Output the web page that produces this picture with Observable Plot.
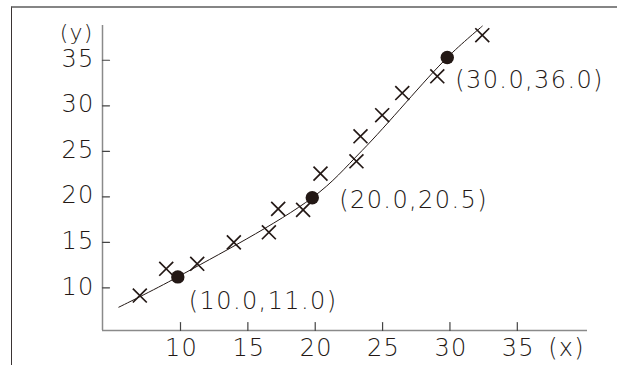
<!DOCTYPE html>
<html>
<head>
<meta charset="utf-8">
<script src="https://cdn.jsdelivr.net/npm/d3@7"></script>
<script src="https://cdn.jsdelivr.net/npm/@observablehq/plot@0.6"></script>
<style>
  html, body { margin: 0; padding: 0; background: #fff; }
  #wrap { position: relative; width: 617px; height: 365px; overflow: hidden; }
  #wrap svg { position: absolute; left: 0; top: 0; }
  #wrap svg text { letter-spacing: 1.2px; }
  #wrap svg .pt-label text { letter-spacing: 1.4px; }
  #frame { position: absolute; left: 11px; top: 6px; width: 700px; height: 400px;
           border-left: 1.5px solid #3a3434; border-top: 2px solid #858585; pointer-events: none; }
</style>
</head>
<body>
<div id="wrap"><div id="frame"></div></div>
<script>
// Data
const crossX = [6.98, 8.94, 11.24, 13.96, 16.56, 17.25, 19.1, 20.39, 23.06, 23.36, 24.97, 26.46, 29.06, 32.4];
const crossY = [9.15, 12.09, 12.64, 15.0, 16.1, 18.68, 18.57, 22.55, 23.9, 26.65, 28.96, 31.4, 33.24, 37.75];
const pointX = [9.8, 19.78, 29.8];
const pointY = [11.2, 19.9, 35.3];
const pointLabels = ["(10.0,11.0)", "(20.0,20.5)", "(30.0,36.0)"];
const lineX = [5.42, 9.8, 19.78, 23.49, 29.8, 32.4];
const lineY = [7.87, 11.2, 19.9, 25.1, 35.3, 38.75];
const xTicks = [10, 15, 20, 25, 30, 35];
const yTicks = [10, 15, 20, 25, 30, 35];
const xDomain = [4.21, 40.21];
const yDomain = [5.31, 38.82];

const ink = "#231815";
const axisGrey = "#8a8a8a";
const font = "'DejaVu Sans', 'Noto Sans', sans-serif";
const fs = 24;

const crosses = crossX.map((x, i) => ({x, y: crossY[i]}));
const points = pointX.map((x, i) => ({x, y: pointY[i], label: pointLabels[i]}));
const curve = lineX.map((x, i) => ({x, y: lineY[i]}));

const tickShape = {draw(context, l) { context.moveTo(0, 0); context.lineTo(0, -l); }};
const textStyle = {fontSize: fs, fontWeight: 300, fill: ink};
const labelStyle = {...textStyle, className: "pt-label"};

const chart = Plot.plot({
  width: 617,
  height: 365,
  marginLeft: 102,
  marginRight: 30,
  marginTop: 25,
  marginBottom: 35,
  style: {fontFamily: font, background: "transparent"},
  x: {domain: xDomain, axis: null},
  y: {domain: yDomain, axis: null},
  marks: [
    Plot.ruleX([xDomain[0]], {stroke: axisGrey, strokeWidth: 1.5}),
    Plot.ruleY([yDomain[0]], {stroke: axisGrey, strokeWidth: 1.5}),
    Plot.vector(yTicks, {x: () => xDomain[0], y: d => d, rotate: 90, length: 7, anchor: "start", shape: tickShape, stroke: "#444", strokeWidth: 1.2}),
    Plot.vector(xTicks, {x: d => d, y: () => yDomain[0], rotate: 0, length: 8, anchor: "start", shape: tickShape, stroke: "#444", strokeWidth: 1.2}),
    Plot.text(yTicks, {y: d => d, frameAnchor: "left", dx: -8, dy: -1, textAnchor: "end", text: d => String(d), ...textStyle}),
    Plot.text(xTicks, {x: d => d, frameAnchor: "bottom", dx: 1, dy: 18, lineAnchor: "middle", text: d => String(d), ...textStyle}),
    Plot.text(["(y)"], {frameAnchor: "top-left", dx: -9, dy: 7, lineAnchor: "middle", textAnchor: "end", ...textStyle, fontSize: 22}),
    Plot.text(["(x)"], {frameAnchor: "bottom-right", dx: -21, dy: 18, lineAnchor: "middle", textAnchor: "middle", ...textStyle}),
    Plot.line(curve, {x: "x", y: "y", curve: "catmull-rom", stroke: ink, strokeWidth: 1}),
    Plot.dot(crosses, {x: "x", y: "y", symbol: "times", r: 6.4, stroke: ink, strokeWidth: 1.7}),
    Plot.dot(points, {x: "x", y: "y", r: 6.7, fill: ink, stroke: null}),
    Plot.text([points[0]], {x: "x", y: "y", text: "label", dx: 11, dy: 24, textAnchor: "start", lineAnchor: "middle", ...labelStyle}),
    Plot.text([points[1]], {x: "x", y: "y", text: "label", dx: 27, dy: 3, textAnchor: "start", lineAnchor: "middle", ...labelStyle}),
    Plot.text([points[2]], {x: "x", y: "y", text: "label", dx: 8, dy: 23, textAnchor: "start", lineAnchor: "middle", ...labelStyle})
  ]
});
document.getElementById("wrap").prepend(chart);
</script>
</body>
</html>
